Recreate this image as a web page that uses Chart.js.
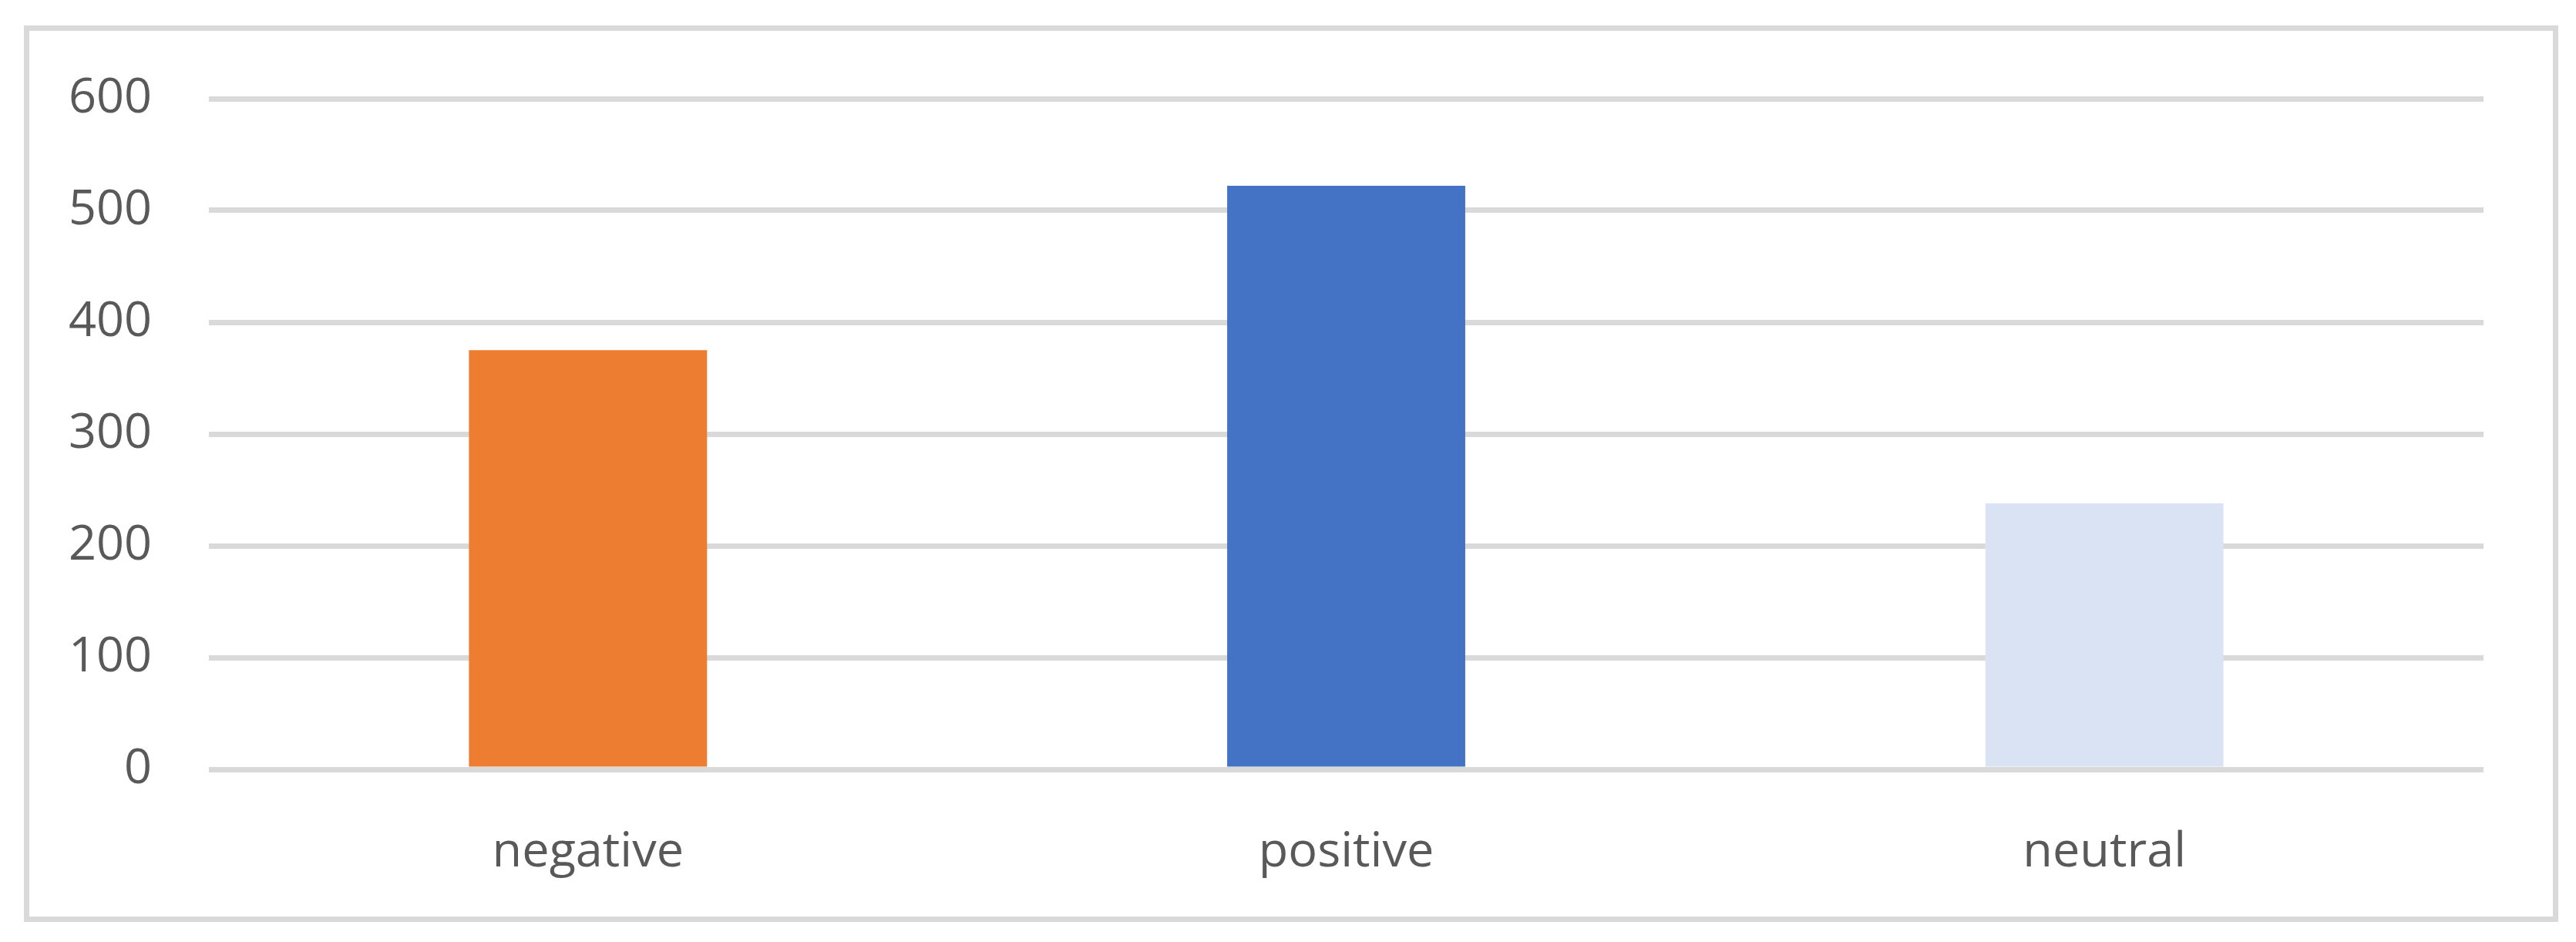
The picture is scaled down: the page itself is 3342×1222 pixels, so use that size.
<!DOCTYPE html>
<html>
<head>
<meta charset="utf-8">
<script src="https://cdn.jsdelivr.net/npm/chart.js@4/dist/chart.umd.min.js"></script>
<style>
  html, body { margin: 0; padding: 0; background: #fff; }
  body { width: 3342px; height: 1222px; position: relative; overflow: hidden; }
  .frame {
    position: absolute; left: 31px; top: 33px;
    width: 3288px; height: 1163px;
    border: 7px solid #d9d9d9; box-sizing: border-box;
  }
  canvas { display: block; }
</style>
</head>
<body>
<div class="frame"><canvas id="chart" width="3274" height="1149"></canvas></div>
<script>
const categories = ['negative', 'positive', 'neutral']
const counts = [375, 522, 238]
const barColors = ['#ED7D31', '#4472C4', '#DAE3F3']
const yTicks = [0, 100, 200, 300, 400, 500, 600]

const textColor = '#595959'
const gridColor = '#d9d9d9'
const font = { family: "'Open Sans', 'Noto Sans', sans-serif", size: 63 }

new Chart(document.getElementById('chart'), {
  type: 'bar',
  data: {
    labels: categories,
    datasets: [{
      data: counts,
      backgroundColor: barColors,
      borderWidth: 0,
      barPercentage: 0.314,
      categoryPercentage: 1,
    }],
  },
  options: {
    responsive: false,
    animation: false,
    layout: { padding: { top: 88, right: 90, left: 0, bottom: 0 } },
    plugins: { legend: { display: false }, tooltip: { enabled: false } },
    scales: {
      x: {
        grid: { display: false },
        border: { display: false },
        ticks: { color: textColor, font, padding: 62 },
        afterFit: (scale) => { scale.height = 191 },
      },
      y: {
        min: yTicks[0],
        max: yTicks[yTicks.length - 1],
        afterBuildTicks: (scale) => { scale.ticks = yTicks.map((v) => ({ value: v })) },
        grid: { color: gridColor, lineWidth: 7, drawTicks: false },
        border: { display: false },
        ticks: { color: textColor, font, padding: 74 },
        afterFit: (scale) => {
          // the tick padding would otherwise push the plot top down
          scale.width = 233
          scale.paddingTop = 0
          scale.paddingBottom = 0
        },
      },
    },
  },
})
</script>
</body>
</html>
